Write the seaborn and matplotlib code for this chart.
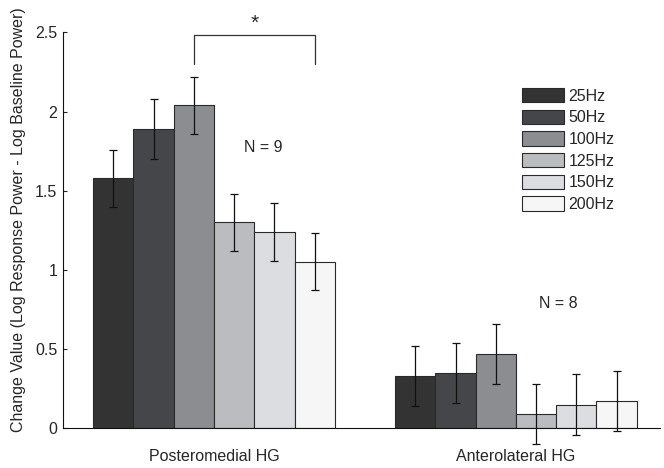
import matplotlib
matplotlib.use("Agg")
import matplotlib.pyplot as plt
import seaborn as sns
import pandas as pd
import numpy as np
from matplotlib.patches import Patch

regions = ["Posteromedial HG", "Anterolateral HG"]
freqs = ["25Hz", "50Hz", "100Hz", "125Hz", "150Hz", "200Hz"]
post_vals = [1.58, 1.89, 2.04, 1.30, 1.24, 1.05]
post_err = [0.18, 0.19, 0.18, 0.18, 0.185, 0.18]
ant_vals = [0.33, 0.35, 0.47, 0.09, 0.15, 0.17]
ant_err = [0.19, 0.19, 0.19, 0.19, 0.19, 0.19]
colors = ["#333333", "#454649", "#8c8d91", "#bbbcc0", "#dcdde0", "#f6f6f6"]
n_labels = ["N = 9", "N = 8"]

sns.set_style("white")
plt.rcParams['font.family'] = ['Liberation Sans', 'DejaVu Sans']

rows = []
for f, v, e in zip(freqs, post_vals, post_err):
    rows.append({"region": regions[0], "freq": f, "value": v, "err": e})
for f, v, e in zip(freqs, ant_vals, ant_err):
    rows.append({"region": regions[1], "freq": f, "value": v, "err": e})
df = pd.DataFrame(rows)

fig = plt.figure(figsize=(6.64, 4.68), dpi=100)
ax = fig.add_axes([63/664, 1-428.3/468, (660-63)/664, (428.3-32.3)/468])

sns.barplot(data=df, x="region", y="value", hue="freq", order=regions,
            hue_order=freqs, palette=colors, errorbar=None, width=0.8,
            edgecolor="#2a2a2a", linewidth=0.8, ax=ax, legend=False, saturation=1)

# error bars at the bar centres produced by seaborn
bars = ax.patches
for i, f in enumerate(freqs):
    for j, r in enumerate(regions):
        p = bars[i * len(regions) + j]
        cx = p.get_x() + p.get_width() / 2
        h = p.get_height()
        e = df[(df.region == r) & (df.freq == f)]["err"].values[0]
        ax.errorbar(cx, h, yerr=e, fmt="none", ecolor="#111111", elinewidth=0.9,
                    capsize=2.6, capthick=0.9, clip_on=False, zorder=5)

ax.set_ylim(0, 2.5)
ax.set_xlim(-0.5, 1.477)
ax.set_yticks([0, 0.5, 1, 1.5, 2, 2.5])
ax.set_yticklabels(["0", "0.5", "1", "1.5", "2", "2.5"])
ax.tick_params(axis="y", direction="in", length=3, labelsize=11.5, pad=4, left=True)
ax.tick_params(axis="x", length=0, labelsize=11.5, pad=15)
ax.set_xlabel("")
ax.set_ylabel("Change Value (Log Response Power - Log Baseline Power)", fontsize=11.5)
ax.yaxis.set_label_coords(-0.062, 0.526)
sns.despine(ax=ax)
for s in ["left", "bottom"]:
    ax.spines[s].set_color("#111111")
    ax.spines[s].set_linewidth(0.8)

# significance bracket between 100Hz and 200Hz of first group
p3 = bars[2 * len(regions)]
p6 = bars[5 * len(regions)]
x3 = p3.get_x() + p3.get_width() / 2
x6 = p6.get_x() + p6.get_width() / 2
ax.plot([x3, x3, x6, x6], [2.30, 2.485, 2.485, 2.30], color="#333333", lw=0.9, clip_on=False)
ax.text((x3 + x6) / 2, 2.495, "*", ha="center", va="bottom", fontsize=15)

ax.text(0.162, 1.77, n_labels[0], ha="center", va="center", fontsize=11.5)
ax.text(1.139, 0.79, n_labels[1], ha="center", va="center", fontsize=11.5)

handles = [Patch(facecolor=c, edgecolor="#2a2a2a", linewidth=0.8) for c in colors]
fig.legend(handles, freqs, loc="upper left", bbox_to_anchor=(522/664, 1-88/468),
           frameon=False, fontsize=11.5, handlelength=2.65, handleheight=1.0,
           labelspacing=0.38, handletextpad=0.25, borderpad=0, borderaxespad=0)

fig.savefig("out.png", dpi=100)
